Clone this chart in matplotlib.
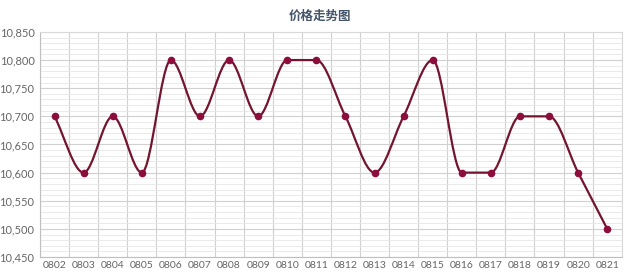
import numpy as np
import matplotlib
matplotlib.use("Agg")
import matplotlib.pyplot as plt
from matplotlib.path import Path
from matplotlib.patches import PathPatch
from matplotlib.ticker import MultipleLocator, FuncFormatter

plt.rcParams['font.family'] = ['Lato', 'Noto Sans CJK SC', 'DejaVu Sans']

# 日期和价格
dates = ['0802', '0803', '0804', '0805', '0806', '0807', '0808', '0809', '0810', '0811',
         '0812', '0813', '0814', '0815', '0816', '0817', '0818', '0819', '0820', '0821']
prices = [10700, 10600, 10700, 10600, 10800, 10700, 10800, 10700, 10800, 10800,
          10700, 10600, 10700, 10800, 10600, 10600, 10700, 10700, 10600, 10500]

line_color = '#74152f'
marker_color = '#8c0d3b'
grid_color = '#d9d9d9'
text_color = '#666666'


def smooth_path(x, y):
    # кривые Безье с монотонными касательными (как сглаживание в Excel)
    x = np.asarray(x, float)
    y = np.asarray(y, float)
    d = np.diff(y) / np.diff(x)
    m = np.zeros_like(y)
    m[0], m[-1] = d[0], d[-1]
    for i in range(1, len(y) - 1):
        if d[i - 1] * d[i] > 0:
            m[i] = 2 * d[i - 1] * d[i] / (d[i - 1] + d[i])
    verts = [(x[0], y[0])]
    codes = [Path.MOVETO]
    for i in range(len(x) - 1):
        h = x[i + 1] - x[i]
        verts += [(x[i] + h / 3, y[i] + m[i] * h / 3),
                  (x[i + 1] - h / 3, y[i + 1] - m[i + 1] * h / 3),
                  (x[i + 1], y[i + 1])]
        codes += [Path.CURVE4] * 3
    return Path(verts, codes)


fig = plt.figure(figsize=(6.4, 2.8), dpi=100)
ax = fig.add_axes([0.0625, 0.082, 0.909, 0.804])

xs = np.arange(len(dates))
ax.add_patch(PathPatch(smooth_path(xs, prices), facecolor='none',
                       edgecolor=line_color, linewidth=1.6, zorder=3))
ax.scatter(xs, prices, s=20, color=marker_color, zorder=4)

ax.set_xlim(-0.5, len(dates) - 0.5)
ax.set_ylim(10450, 10850)
ax.set_xticks(xs)
ax.set_xticklabels(dates)
ax.yaxis.set_major_locator(MultipleLocator(50))
ax.yaxis.set_minor_locator(MultipleLocator(10))
ax.yaxis.set_major_formatter(FuncFormatter(lambda v, p: f'{v:,.0f}'))

# сетка
ax.grid(axis='y', which='major', color='#d0d0d0', linewidth=0.8)
ax.grid(axis='y', which='minor', color='#e6e6e6', linewidth=0.6)
for b in np.arange(-0.5, len(dates), 1.0):
    ax.axvline(b, color='#d0d0d0', linewidth=0.8, zorder=0)
ax.set_axisbelow(True)

for side in ['top', 'right']:
    ax.spines[side].set_color(grid_color)
    ax.spines[side].set_linewidth(0.8)
for side in ['left', 'bottom']:
    ax.spines[side].set_color('#bfbfbf')
    ax.spines[side].set_linewidth(0.8)

ax.tick_params(axis='both', which='both', length=0, colors=text_color)
ax.tick_params(axis='x', pad=3, labelsize=7.5)
ax.tick_params(axis='y', pad=4, labelsize=8)

fig.text(0.5, 0.94, '价格走势图', ha='center', va='center', fontsize=9,
         fontweight='bold', color='#44546a', family=['Noto Sans CJK SC', 'DejaVu Sans'])

fig.savefig('out.png', dpi=100, facecolor='white')
